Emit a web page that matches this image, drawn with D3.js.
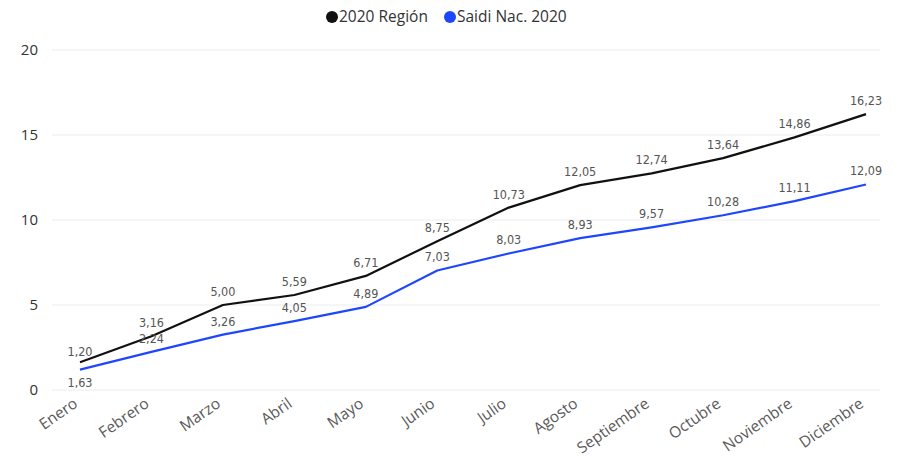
<!DOCTYPE html>
<html><head><meta charset="utf-8">
<script src="https://cdn.jsdelivr.net/npm/d3@7"></script>
<style>body{margin:0;background:#fff}svg{display:block}</style>
</head><body><svg id="c" width="905" height="459"></svg>
<script>
const months = ["Enero","Febrero","Marzo","Abril","Mayo","Junio","Julio","Agosto","Septiembre","Octubre","Noviembre","Diciembre"];
const region2020 = [1.63,3.16,5.00,5.59,6.71,8.75,10.73,12.05,12.74,13.64,14.86,16.23];
const saidiNac2020 = [1.20,2.24,3.26,4.05,4.89,7.03,8.03,8.93,9.57,10.28,11.11,12.09];
const yTicks = [0,5,10,15,20];
const seriesNames = ["2020 Región","Saidi Nac. 2020"];
const colors = ["#111111","#1E46FF"];

const svg = d3.select("#c");
const x = d3.scalePoint().domain(months).range([80,866]);
const y = d3.scaleLinear().domain([0,20]).range([390,50]);
const fmt = v => d3.format(".2f")(v).replace(".", ",");

// grid
svg.append("g").selectAll("line").data(yTicks).join("line")
  .attr("x1",52).attr("x2",880).attr("y1",d=>y(d)).attr("y2",d=>y(d))
  .attr("stroke","#ececec").attr("stroke-width",1);

// y axis
const ya = svg.append("g").attr("transform","translate(42,0)")
  .call(d3.axisLeft(y).tickValues(yTicks).tickSize(0).tickPadding(4));
ya.select(".domain").remove();
ya.selectAll("text").attr("font-family","'Open Sans',sans-serif").attr("font-size",15).attr("fill","#333");

// x axis
const xa = svg.append("g").attr("transform","translate(-8,397)")
  .call(d3.axisBottom(x).tickSize(0).tickPadding(0));
xa.select(".domain").remove();
xa.selectAll("text").attr("font-family","'Open Sans',sans-serif").attr("font-size",15.5).attr("fill","#5a5a5a")
  .attr("text-anchor","end").attr("dy","0.7em").attr("transform","rotate(-35)");

const series = [region2020, saidiNac2020];
const line = d3.line().x((d,i)=>x(months[i])).y(d=>y(d));
series.forEach((s,k)=>{
  svg.append("path").datum(s).attr("d",line).attr("fill","none")
    .attr("stroke",colors[k]).attr("stroke-width",2.2).attr("stroke-linejoin","round");
});

// labels
series.forEach((s,k)=>{
  svg.append("g").selectAll("text").data(s).join("text")
    .attr("x",(d,i)=>x(months[i]))
    .attr("y",(d,i)=>{
      // first point: labels swapped to avoid overlap (black below, blue above)
      if(i===0){ return k===0 ? y(saidiNac2020[0])+17 : y(region2020[0])-6; }
      return y(d)-9;
    })
    .attr("text-anchor","middle")
    .attr("font-family","'DejaVu Sans Condensed','Roboto Condensed',sans-serif")
    .attr("font-size",12.5).attr("fill","#555")
    .text(d=>fmt(d));
});

// legend
const lg = svg.append("g").attr("font-family","'Open Sans',sans-serif").attr("font-size",15.5).attr("fill","#333");
const items = [{x:332,t:seriesNames[0],c:colors[0]},{x:450,t:seriesNames[1],c:colors[1]}];
items.forEach(it=>{
  lg.append("circle").attr("cx",it.x).attr("cy",17).attr("r",6).attr("fill",it.c);
  lg.append("text").attr("x",it.x+7).attr("y",22).text(it.t);
});
</script></body></html>
